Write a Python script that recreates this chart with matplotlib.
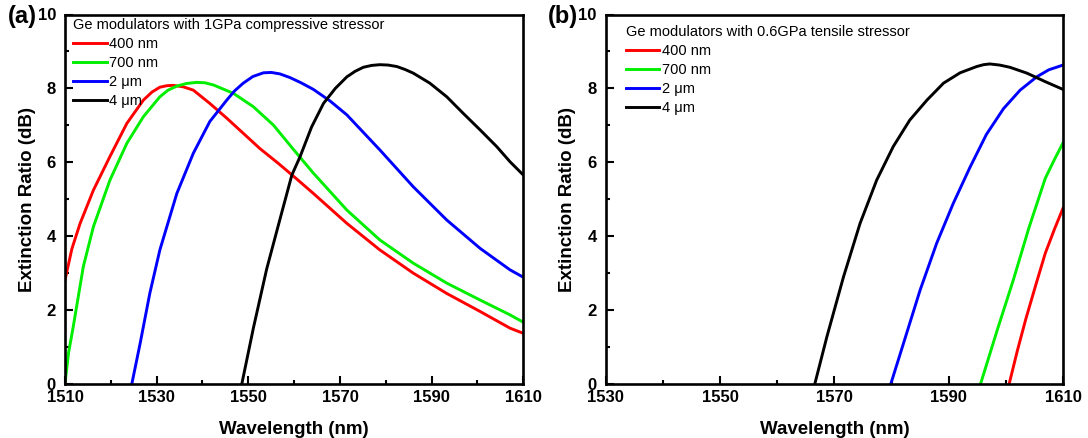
import matplotlib
matplotlib.use("Agg")
import matplotlib.pyplot as plt
from matplotlib.ticker import MultipleLocator

plt.rcParams['font.family'] = ['Liberation Sans', 'DejaVu Sans']

# ---- (a) 1 GPa compressive stressor ----
a_400_wl = [1510, 1511.5, 1513.3, 1516.2, 1519.8, 1523.5, 1527.1, 1529.0, 1530.7, 1532.2,
            1533.6, 1535.8, 1538.0, 1541.6, 1545.3, 1548.9, 1552.5, 1556.5, 1560.3, 1564.2,
            1571.5, 1578.7, 1586.0, 1593.3, 1600.6, 1607.1, 1610]
a_400_er = [2.80, 3.65, 4.34, 5.24, 6.15, 7.05, 7.68, 7.90, 8.03, 8.07,
            8.08, 8.04, 7.95, 7.59, 7.19, 6.78, 6.37, 5.97, 5.57, 5.15,
            4.34, 3.62, 2.99, 2.44, 1.95, 1.50, 1.36]

a_700_wl = [1510, 1510.8, 1511.8, 1514.0, 1516.2, 1519.8, 1523.5, 1527.1, 1530.7, 1532.5,
            1534.4, 1536.5, 1538.7, 1540.5, 1542.4, 1546.8, 1551.1, 1555.5, 1559.8, 1564.2,
            1571.5, 1578.7, 1586.0, 1593.3, 1600.6, 1607.1, 1610]
a_700_er = [0.0, 0.85, 1.54, 3.17, 4.25, 5.51, 6.51, 7.23, 7.77, 7.95,
            8.06, 8.13, 8.16, 8.15, 8.09, 7.86, 7.50, 7.00, 6.35, 5.70,
            4.70, 3.89, 3.26, 2.72, 2.26, 1.86, 1.66]

a_2um_wl = [1524.6, 1526.4, 1528.5, 1530.7, 1534.4, 1538.0, 1541.6, 1545.3, 1547.0, 1548.9,
            1551.0, 1553.3, 1555.0, 1556.9, 1559.1, 1561.5, 1564.2, 1567.8, 1571.5, 1578.7,
            1586.0, 1593.3, 1600.6, 1607.1, 1610]
a_2um_er = [0.0, 1.09, 2.44, 3.62, 5.15, 6.24, 7.10, 7.68, 7.93, 8.14,
            8.32, 8.42, 8.43, 8.39, 8.29, 8.15, 7.97, 7.66, 7.28, 6.33,
            5.33, 4.43, 3.66, 3.08, 2.88]

a_4um_wl = [1548.6, 1551.1, 1554.0, 1556.9, 1559.5, 1561.3, 1563.8, 1566.4, 1569.0, 1571.5,
            1573.3, 1575.1, 1576.9, 1578.7, 1580.5, 1582.4, 1584.2, 1586.0, 1589.6, 1593.3,
            1596.9, 1600.6, 1604.2, 1607.1, 1610]
a_4um_er = [0.0, 1.50, 3.10, 4.45, 5.65, 6.15, 6.95, 7.59, 8.00, 8.31,
            8.46, 8.57, 8.62, 8.64, 8.63, 8.59, 8.51, 8.41, 8.14, 7.77,
            7.32, 6.87, 6.42, 6.01, 5.65]

# ---- (b) 0.6 GPa tensile stressor ----
b_400_wl = [1600.6, 1602.0, 1603.5, 1605.2, 1606.9, 1608.5, 1610]
b_400_er = [0.0, 0.88, 1.75, 2.65, 3.53, 4.18, 4.75]

b_700_wl = [1595.6, 1598.5, 1601.3, 1604.0, 1606.9, 1608.5, 1610]
b_700_er = [0.0, 1.45, 2.80, 4.20, 5.56, 6.07, 6.52]

b_2um_wl = [1579.9, 1582.1, 1585.0, 1587.9, 1590.8, 1593.7, 1596.6, 1599.6, 1602.5, 1605.4,
            1607.5, 1610]
b_2um_er = [0.0, 1.09, 2.53, 3.80, 4.88, 5.85, 6.75, 7.45, 7.95, 8.31,
            8.50, 8.63]

b_4um_wl = [1566.6, 1568.7, 1571.6, 1574.5, 1577.4, 1580.3, 1583.2, 1586.2, 1589.1, 1592.0,
            1594.9, 1596.1, 1597.2, 1598.9, 1600.7, 1603.7, 1606.9, 1610]
b_4um_er = [0.0, 1.27, 2.89, 4.34, 5.51, 6.42, 7.14, 7.68, 8.14, 8.42,
            8.59, 8.64, 8.66, 8.63, 8.57, 8.41, 8.18, 7.97]

labels = ['400 nm', '700 nm', '2 \u03bcm', '4 \u03bcm']
colors = ['#ff0000', '#00ee00', '#0000ff', '#000000']

a_title = 'Ge modulators with 1GPa compressive stressor'
b_title = 'Ge modulators with 0.6GPa tensile stressor'

a_xticks = [1510, 1530, 1550, 1570, 1590, 1610]
b_xticks = [1530, 1550, 1570, 1590, 1610]
yticks = [0, 2, 4, 6, 8, 10]

W, H = 1088, 438
fig = plt.figure(figsize=(W / 100, H / 100), dpi=100)

bottom = (H - 383.5) / H
height = (383.5 - 14.5) / H
ax_a = fig.add_axes([65 / W, bottom, 458.3 / W, height])
ax_b = fig.add_axes([605.7 / W, bottom, 457.3 / W, height])


def style(ax, xlim, xticks, leg_title, leg_anchor):
    ax.set_xlim(*xlim)
    ax.set_ylim(0, 10)
    ax.set_xticks(xticks)
    ax.set_yticks(yticks)
    ax.xaxis.set_minor_locator(MultipleLocator(10))
    ax.yaxis.set_minor_locator(MultipleLocator(1))
    ax.tick_params(which='both', direction='in', top=False, right=False, width=1.5)
    ax.tick_params(which='major', length=6, labelsize=12)
    ax.tick_params(which='minor', length=3)
    ax.tick_params(axis='y', pad=6.5)
    ax.tick_params(axis='x', pad=5)
    for lab in ax.get_xticklabels() + ax.get_yticklabels():
        lab.set_fontweight('bold')
    for sp in ax.spines.values():
        sp.set_linewidth(1.9)
    ax.set_xlabel('Wavelength (nm)', fontsize=13.5, fontweight='bold', labelpad=11)
    ax.set_ylabel('Extinction Ratio (dB)', fontsize=13.5, fontweight='bold', labelpad=1.5)
    leg = ax.legend(labels, title=leg_title, loc='upper left', bbox_to_anchor=leg_anchor,
                    frameon=False, fontsize=10.5, title_fontsize=10.5, alignment='left',
                    handlelength=2.3, handletextpad=0.2, labelspacing=0.34,
                    borderpad=0, borderaxespad=0)
    return leg


for wl, er, c in zip([a_400_wl, a_700_wl, a_2um_wl, a_4um_wl],
                     [a_400_er, a_700_er, a_2um_er, a_4um_er], colors):
    ax_a.plot(wl, er, color=c, lw=2.1, solid_joinstyle='round')
for wl, er, c in zip([b_400_wl, b_700_wl, b_2um_wl, b_4um_wl],
                     [b_400_er, b_700_er, b_2um_er, b_4um_er], colors):
    ax_b.plot(wl, er, color=c, lw=2.1, solid_joinstyle='round')

style(ax_a, (1510, 1610), a_xticks, a_title, (0.0175, 0.99))
style(ax_b, (1530, 1610), b_xticks, b_title, (0.044, 0.972))

fig.text(8 / W, 1 - 17 / H, '(a)', fontsize=17, fontweight='bold', va='center', ha='left')
fig.text(548 / W, 1 - 17 / H, '(b)', fontsize=17, fontweight='bold', va='center', ha='left')

fig.savefig('out.png', dpi=100)
